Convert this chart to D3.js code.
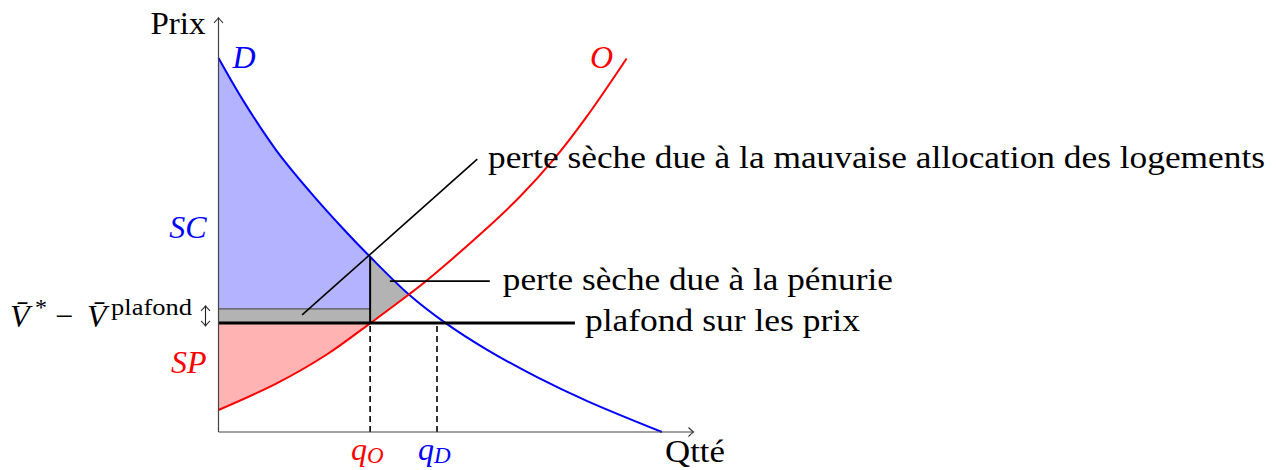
<!DOCTYPE html>
<html lang="fr">
<head>
<meta charset="utf-8">
<script src="https://d3js.org/d3.v7.min.js"></script>
<style>
    body { margin: 0; background: #fff; }
    text { font-family: "Liberation Serif", "Times New Roman", serif; font-size: 32px; }
</style>
</head>
<body>
<script>
    // courbe de demande D (quantité, prix)
    var demandQ = [0, 0.65, 1.53, 2.41, 3.28, 3.99, 5.01, 5.96, 7.06, 8.37, 9.69, 11.67];
    var demandP = [9.84, 8.72, 7.40, 6.32, 5.35, 4.61, 3.62, 2.88, 2.17, 1.45, 0.82, 0];
    // courbe d'offre O
    var supplyQ = [0, 1.53, 2.85, 3.99, 5.01, 5.30, 6.18, 7.06, 7.93, 8.81, 9.69, 10.74];
    var supplyP = [0.58, 1.28, 2.04, 2.86, 3.62, 3.84, 4.58, 5.36, 6.19, 7.16, 8.30, 9.83];

    var ceiling = 2.87;   // plafond sur les prix
    var bandTop = 3.24;   // haut de la bande grise (V* - V plafond)
    var qO = 3.99, qD = 5.75, qStar = 5.01;

    var notes = ["perte sèche due à la mauvaise allocation des logements",
        "perte sèche due à la pénurie",
        "plafond sur les prix"];

    var width = 1276, height = 470;
    var x = d3.scaleLinear().domain([0, 12.5]).range([218.5, 693.5]);
    var y = d3.scaleLinear().domain([0, 10.9]).range([432, 17.8]);

    var demand = demandQ.map(function (q, i) { return [q, demandP[i]]; });
    var supply = supplyQ.map(function (q, i) { return [q, supplyP[i]]; });
    var dAtQO = demandP[demandQ.indexOf(qO)];

    var svg = d3.select("body").append("svg")
        .attr("width", width)
        .attr("height", height);

    var defs = svg.append("defs");
    defs.append("marker")
        .attr("id", "arr")
        .attr("markerUnits", "userSpaceOnUse")
        .attr("viewBox", "-7 -6 8 12")
        .attr("markerWidth", 8).attr("markerHeight", 12)
        .attr("refX", 0).attr("refY", 0)
        .attr("orient", "auto-start-reverse")
        .append("path")
        .attr("d", "M-5,-4.5 Q-1.5,-1 0,0 Q-1.5,1 -5,4.5")
        .attr("fill", "none").attr("stroke", "#333").attr("stroke-width", 1.1);

    var curve = d3.curveCatmullRom.alpha(0.5);
    var line = d3.line().x(function (d) { return x(d[0]); }).y(function (d) { return y(d[1]); }).curve(curve);
    function areaTo(base) {
        return d3.area().x(function (d) { return x(d[0]); })
            .y0(y(base)).y1(function (d) { return y(d[1]); }).curve(curve);
    }

    defs.append("clipPath").attr("id", "leftOfQO").append("rect")
        .attr("x", x(0)).attr("y", 0).attr("width", x(qO) - x(0)).attr("height", height);
    defs.append("clipPath").attr("id", "belowD").append("path").attr("d", areaTo(0)(demand));
    defs.append("clipPath").attr("id", "aboveO").append("path").attr("d", areaTo(10.9)(supply));

    // surplus du consommateur
    svg.append("path").attr("d", areaTo(bandTop)(demand))
        .attr("fill", "#b3b3ff").attr("clip-path", "url(#leftOfQO)");
    // surplus du producteur
    svg.append("path").attr("d", areaTo(ceiling)(supply))
        .attr("fill", "#ffb3b3").attr("clip-path", "url(#leftOfQO)");
    // perte sèche (triangle)
    svg.append("g").attr("clip-path", "url(#aboveO)")
        .append("rect")
        .attr("x", x(qO)).attr("y", y(10.9))
        .attr("width", x(qStar + 0.3) - x(qO)).attr("height", y(0) - y(10.9))
        .attr("fill", "#b3b3b3").attr("clip-path", "url(#belowD)");
    // bande grise
    svg.append("rect")
        .attr("x", x(0)).attr("y", y(bandTop))
        .attr("width", x(qO) - x(0)).attr("height", y(ceiling) - y(bandTop))
        .attr("fill", "#b3b3b3");
    svg.append("line")
        .attr("x1", x(0)).attr("x2", x(qO)).attr("y1", y(bandTop)).attr("y2", y(bandTop))
        .attr("stroke", "#555").attr("stroke-width", 1.2);

    // courbes
    svg.append("path").attr("d", line(demand))
        .attr("fill", "none").attr("stroke", "#0000ff").attr("stroke-width", 2);
    svg.append("path").attr("d", line(supply))
        .attr("fill", "none").attr("stroke", "#ff0000").attr("stroke-width", 2);

    // verticale en qO
    svg.append("line")
        .attr("x1", x(qO)).attr("x2", x(qO)).attr("y1", y(ceiling)).attr("y2", y(dAtQO))
        .attr("stroke", "#000").attr("stroke-width", 2);
    // pointillés
    [qO, qD].forEach(function (q) {
        svg.append("line")
            .attr("x1", x(q)).attr("x2", x(q)).attr("y1", y(0)).attr("y2", y(ceiling))
            .attr("stroke", "#000").attr("stroke-width", 1.6).attr("stroke-dasharray", "6,4");
    });
    // plafond
    svg.append("line")
        .attr("x1", x(0)).attr("x2", x(9.38)).attr("y1", y(ceiling)).attr("y2", y(ceiling))
        .attr("stroke", "#000").attr("stroke-width", 3);

    // traits d'annotation
    svg.append("line")
        .attr("x1", x(2.2)).attr("y1", y(3.08)).attr("x2", x(6.81)).attr("y2", y(7.18))
        .attr("stroke", "#000").attr("stroke-width", 1.6);
    svg.append("line")
        .attr("x1", x(4.51)).attr("y1", y(3.97)).attr("x2", x(7.14)).attr("y2", y(3.97))
        .attr("stroke", "#000").attr("stroke-width", 1.6);

    // axes
    svg.append("line")
        .attr("x1", x(0)).attr("y1", y(0)).attr("x2", x(12.5)).attr("y2", y(0))
        .attr("stroke", "#444").attr("stroke-width", 1.2).attr("marker-end", "url(#arr)");
    svg.append("line")
        .attr("x1", x(0)).attr("y1", y(0)).attr("x2", x(0)).attr("y2", y(10.9))
        .attr("stroke", "#444").attr("stroke-width", 1.2).attr("marker-end", "url(#arr)");

    // double flèche de la bande
    svg.append("line")
        .attr("x1", x(0) - 13).attr("x2", x(0) - 13)
        .attr("y1", y(ceiling) + 3).attr("y2", y(bandTop) - 3)
        .attr("stroke", "#222").attr("stroke-width", 1.1)
        .attr("marker-start", "url(#arr)").attr("marker-end", "url(#arr)");

    // textes
    svg.append("text").attr("x", x(0) - 13).attr("y", 34).attr("text-anchor", "end")
        .attr("textLength", 55).attr("lengthAdjust", "spacingAndGlyphs").text("Prix");
    svg.append("text").attr("x", 665).attr("y", 462)
        .attr("textLength", 60).attr("lengthAdjust", "spacingAndGlyphs").text("Qtté");

    svg.append("text").attr("x", x(0) + 14).attr("y", 68).attr("fill", "#0000ff")
        .attr("font-style", "italic").text("D");
    svg.append("text").attr("x", 590).attr("y", 68).attr("fill", "#ff0000")
        .attr("font-style", "italic").text("O");
    svg.append("text").attr("x", x(0) - 12).attr("y", 238).attr("text-anchor", "end")
        .attr("fill", "#0000ff").attr("font-style", "italic").text("SC");
    svg.append("text").attr("x", x(0) - 12).attr("y", 373).attr("text-anchor", "end")
        .attr("fill", "#ff0000").attr("font-style", "italic").text("SP");

    var qLab = [[qO, "O", "#ff0000"], [qD, "D", "#0000ff"]];
    qLab.forEach(function (d) {
        var t = svg.append("text").attr("x", x(d[0]) - 19).attr("y", 460).attr("fill", d[2]);
        t.append("tspan").attr("font-style", "italic").text("q");
        t.append("tspan").attr("font-style", "italic").attr("font-size", 23).attr("dy", 3).text(d[1]);
    });

    var lab = svg.append("text").attr("y", 327).attr("font-size", 33);
    lab.append("tspan").attr("x", 10).attr("font-style", "italic").text("V\u0304");
    lab.append("tspan").attr("x", 35).attr("font-size", 24).attr("dy", -12).text("*");
    lab.append("tspan").attr("x", 55).attr("dy", 12).text("\u2212");
    lab.append("tspan").attr("x", 87).attr("font-style", "italic").text("V\u0304");
    lab.append("tspan").attr("x", 111).attr("font-size", 24).attr("dy", -12).attr("textLength", 81)
        .attr("lengthAdjust", "spacingAndGlyphs").text("plafond");

    svg.append("text").attr("x", 488).attr("y", 168)
        .attr("textLength", 777).attr("lengthAdjust", "spacingAndGlyphs").text(notes[0]);
    svg.append("text").attr("x", x(7.14) + 13).attr("y", 290)
        .attr("textLength", 390).attr("lengthAdjust", "spacingAndGlyphs").text(notes[1]);
    svg.append("text").attr("x", x(9.38) + 10).attr("y", 331)
        .attr("textLength", 275).attr("lengthAdjust", "spacingAndGlyphs").text(notes[2]);
</script>
</body>
</html>
